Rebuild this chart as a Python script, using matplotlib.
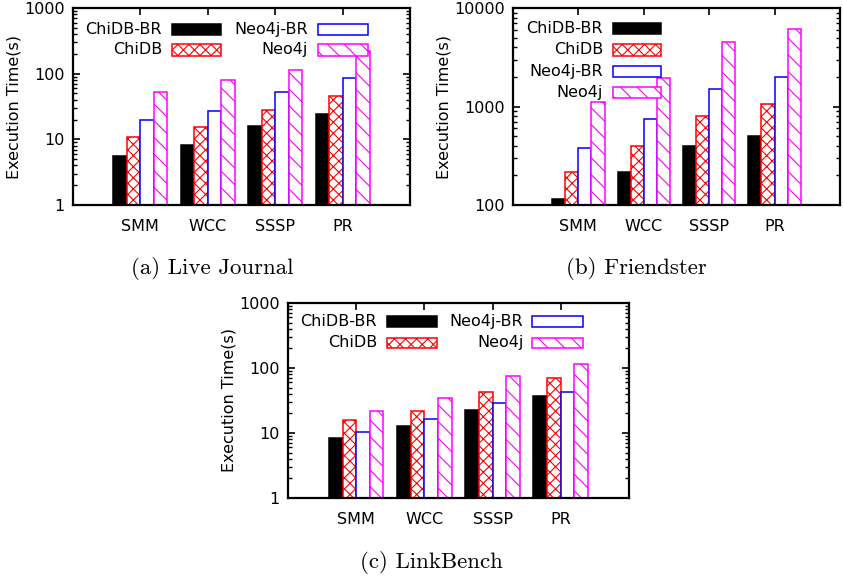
import numpy as np
import matplotlib
matplotlib.use("Agg")
import matplotlib.pyplot as plt
from matplotlib.patches import Rectangle
from matplotlib.ticker import LogLocator, NullFormatter, FixedLocator, FixedFormatter

# Données
categories = ["SMM", "WCC", "SSSP", "PR"]
series = ["ChiDB-BR", "ChiDB", "Neo4j-BR", "Neo4j"]

# (a) Live Journal
chidb_br_lj = [5.5, 8.1, 15.8, 24.3]
chidb_lj = [11, 15.3, 28, 46]
neo4j_br_lj = [19.6, 27, 53, 87]
neo4j_lj = [52, 81, 115, 218]

# (b) Friendster
chidb_br_fr = [115, 218, 400, 505]
chidb_fr = [218, 400, 810, 1070]
neo4j_br_fr = [383, 740, 1520, 1980]
neo4j_fr = [1100, 1940, 4500, 6100]

# (c) LinkBench
chidb_br_lb = [8.5, 13, 22.7, 37]
chidb_lb = [16, 22, 43, 71]
neo4j_br_lb = [10.2, 16.7, 28.5, 43]
neo4j_lb = [21.5, 34, 75, 114]

# style de chaque série : (remplissage, bord, hachure)
styles = [
    ("black", "black", None),
    ("white", "#ff0000", "xxx"),
    ("white", "#0000ff", None),
    ("white", "#ff00ff", "\\\\"),
]

plt.rcParams["hatch.linewidth"] = 0.8
plt.rcParams["font.family"] = "DejaVu Sans"

fig = plt.figure(figsize=(8.43, 5.78), dpi=100)


def draw_panel(ax, data, ylim, yticks, legend_pos):
    ax.set_yscale("log")
    x = np.arange(len(categories))
    w = 0.2
    for i, vals in enumerate(data):
        fc, ec, hatch = styles[i]
        # les barres partent du bas de l'axe
        h = np.array(vals) - ylim[0]
        ax.bar(x - 0.3 + i * w, h, w, bottom=ylim[0], color=fc,
               edgecolor=ec, hatch=hatch, linewidth=1.1, zorder=2)
    ax.set_xlim(-1, 4)
    ax.set_ylim(*ylim)
    ax.yaxis.set_major_locator(FixedLocator(yticks))
    ax.yaxis.set_major_formatter(FixedFormatter([str(t) for t in yticks]))
    ax.yaxis.set_minor_locator(LogLocator(base=10, subs=np.arange(2, 10)))
    ax.yaxis.set_minor_formatter(NullFormatter())
    ax.set_xticks(x)
    ax.set_xticklabels(categories)
    ax.tick_params(axis="y", which="major", direction="in", length=5,
                   width=1.2, right=True, labelsize=11.5, pad=6)
    ax.tick_params(axis="y", which="minor", direction="in", length=3,
                   width=1.0, right=True)
    ax.tick_params(axis="x", direction="in", length=5, width=1.2, top=True,
                   bottom=False, labelsize=11.5, pad=10)
    for s in ax.spines.values():
        s.set_linewidth(1.6)
    ax.set_ylabel("Execution Time(s)", fontsize=11.5, labelpad=2)

    # légende façon gnuplot : texte aligné à droite puis échantillon
    for i, (tx, bx0, bx1, ty) in enumerate(legend_pos):
        fc, ec, hatch = styles[i]
        ax.text(tx, ty, series[i], transform=ax.transAxes, ha="right",
                va="center", fontsize=11.5, zorder=5)
        ax.add_patch(Rectangle((bx0, ty - 0.028), bx1 - bx0, 0.056,
                               transform=ax.transAxes, facecolor=fc,
                               edgecolor=ec, hatch=hatch, linewidth=1.1,
                               zorder=5, clip_on=False))


ax1 = fig.add_axes([0.0866, 0.6453, 0.3998, 0.3408])
draw_panel(ax1, [chidb_br_lj, chidb_lj, neo4j_br_lj, neo4j_lj],
           (1, 1000), [1, 10, 100, 1000],
           [(0.264, 0.294, 0.439, 0.893), (0.264, 0.294, 0.439, 0.787),
            (0.697, 0.727, 0.875, 0.893), (0.697, 0.727, 0.875, 0.787)])

ax2 = fig.add_axes([0.6085, 0.6453, 0.3879, 0.3408])
draw_panel(ax2, [chidb_br_fr, chidb_fr, neo4j_br_fr, neo4j_fr],
           (100, 10000), [100, 1000, 10000],
           [(0.275, 0.306, 0.453, 0.898), (0.275, 0.306, 0.453, 0.787),
            (0.275, 0.306, 0.453, 0.680), (0.275, 0.306, 0.453, 0.569)])

ax3 = fig.add_axes([0.3416, 0.1384, 0.4045, 0.3374])
draw_panel(ax3, [chidb_br_lb, chidb_lb, neo4j_br_lb, neo4j_lb],
           (1, 1000), [1, 10, 100, 1000],
           [(0.261, 0.290, 0.437, 0.903), (0.261, 0.290, 0.437, 0.795),
            (0.690, 0.717, 0.864, 0.903), (0.690, 0.717, 0.864, 0.795)])

# légendes des sous-figures
cap = dict(family="cmr10", fontsize=16.5, ha="center", va="center")
fig.text(212 / 843, 1 - 268 / 578, "(a) Live Journal", **cap)
fig.text(636 / 843, 1 - 268 / 578, "(b) Friendster", **cap)
fig.text(431 / 843, 1 - 562 / 578, "(c) LinkBench", **cap)

fig.savefig("out.png", dpi=100)
